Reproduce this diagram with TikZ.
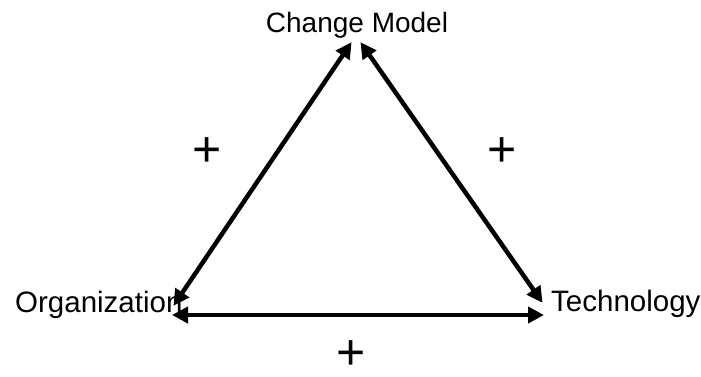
\documentclass[tikz,border=0pt]{standalone}
\usepackage{fontspec}
\setmainfont{Liberation Sans}
\usetikzlibrary{arrows.meta}
\begin{document}
\begin{tikzpicture}[x=1pt,y=-1pt,
  lbl/.style={font=\fontsize{28}{32}\selectfont, inner sep=0pt},
  side/.style={font=\fontsize{29.5}{33}\selectfont, inner sep=0pt},
  plus/.style={font=\fontsize{50}{54}\selectfont, inner sep=0pt},
  link/.style={line width=4.5pt, {Triangle[length=16pt,width=16pt]}-{Triangle[length=16pt,width=16pt]}, shorten <=-1pt, shorten >=-1pt}]
\useasboundingbox (0,0) rectangle (701,376);
\node[lbl, anchor=base] (cm) at (357,32) {Change Model};
\node[side, anchor=base west] (org) at (15,312) {Organization};
\node[side, anchor=base west] (tech) at (551,311) {Technology};
\coordinate (cmL) at (351,43);
\coordinate (cmR) at (361,43);
\coordinate (orgT) at (174,305);
\coordinate (orgR) at (173,315);
\coordinate (techT) at (542,302);
\coordinate (techL) at (543,315);
\draw[link] (orgT) -- (cmL);
\draw[link] (cmR) -- (techT);
\draw[link] (orgR) -- (techL);
\node[plus] (p1) at (207,152) {+};
\node[plus] (p2) at (502,152) {+};
\node[plus] (p3) at (351,355) {+};
\end{tikzpicture}
\end{document}
